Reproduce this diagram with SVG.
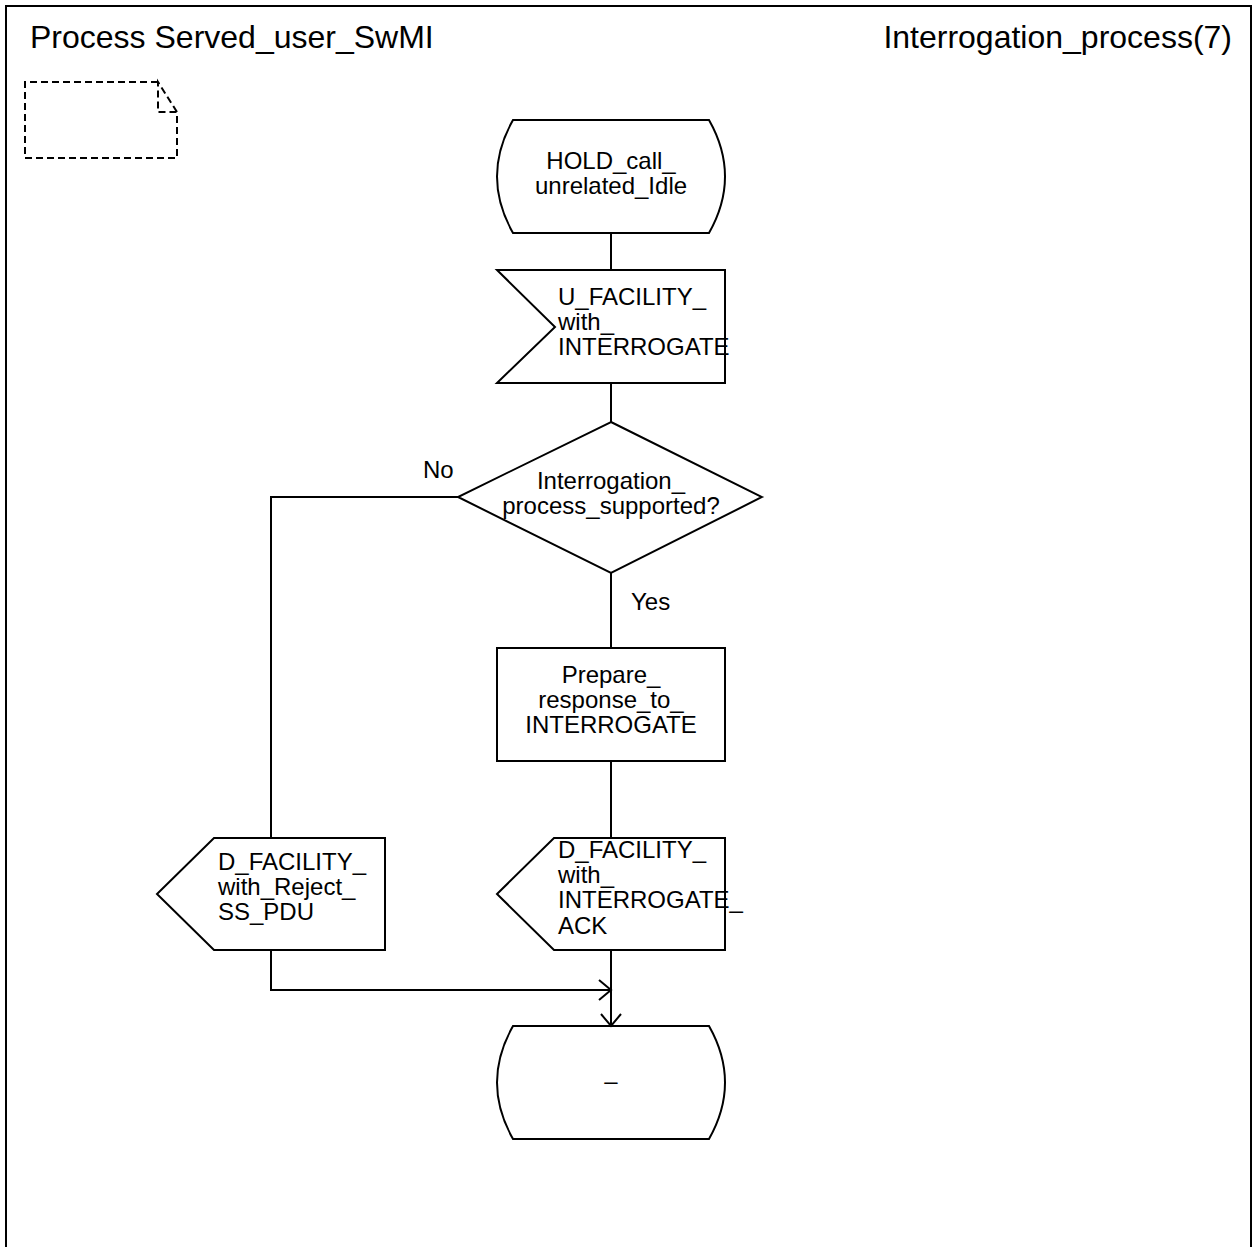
<svg xmlns="http://www.w3.org/2000/svg" width="1252" height="1247" viewBox="0 0 1252 1247">
<style>
.s{fill:none;stroke:#000;stroke-width:2}
.d{fill:none;stroke:#000;stroke-width:2;stroke-dasharray:7 4}
text{font-family:"Liberation Sans",Arial,sans-serif;font-size:24px;fill:#000}
.h{font-size:32px}
.c{text-anchor:middle}
</style>
<defs>
<marker id="arr" markerWidth="16" markerHeight="24" viewBox="-2 -12 16 24" refX="12" refY="0" orient="auto" markerUnits="userSpaceOnUse">
<path d="M0,-10 L12,0 L0,10" fill="none" stroke="#000" stroke-width="2"/>
</marker>
</defs>
<rect width="1252" height="1247" fill="#fff"/>
<path class="s" d="M6,1247 V6 H1251 V1247"/>
<text class="h" x="30" y="48">Process Served_user_SwMI</text>
<text class="h" x="1232" y="48" text-anchor="end">Interrogation_process(7)</text>
<g id="comment">
<path class="d" d="M158,82 H25 V158 H177 V112 L158,82 V112 H177"/>
</g>
<g id="connectors">
<path class="s" d="M611,233 V270"/>
<path class="s" d="M611,383 V422"/>
<path class="s" d="M611,573 V648"/>
<path class="s" d="M611,761 V838"/>
<path class="s" d="M458,497 H271 V838"/>
<path class="s" d="M271,950 V990 H611" marker-end="url(#arr)"/>
<path class="s" d="M611,950 V1026" marker-end="url(#arr)"/>
<text x="423" y="478">No</text>
<text x="631" y="610">Yes</text>
</g>
<g id="start">
<path class="s" d="M513,120 H709 Q741,176.5 709,233 H513 Q481,176.5 513,120 Z"/>
<text class="c" x="611" y="169">HOLD_call_</text>
<text class="c" x="611" y="194">unrelated_Idle</text>
</g>
<g id="input">
<path class="s" d="M497,270 H725 V383 H497 L555,327 Z"/>
<text x="558" y="305">U_FACILITY_</text>
<text x="558" y="330">with_</text>
<text x="558" y="355">INTERROGATE</text>
</g>
<g id="decision">
<path class="s" d="M611,422 L762,497 L611,573 L458,497 Z"/>
<text class="c" x="611" y="489">Interrogation_</text>
<text class="c" x="611" y="514">process_supported?</text>
</g>
<g id="task">
<rect class="s" x="497" y="648" width="228" height="113"/>
<text class="c" x="611" y="683">Prepare_</text>
<text class="c" x="611" y="708">response_to_</text>
<text class="c" x="611" y="733">INTERROGATE</text>
</g>
<g id="output_reject">
<path class="s" d="M214,838 H385 V950 H214 L157,894 Z"/>
<text x="218" y="870">D_FACILITY_</text>
<text x="218" y="895">with_Reject_</text>
<text x="218" y="920">SS_PDU</text>
</g>
<g id="output_ack">
<path class="s" d="M554,838 H725 V950 H554 L497,894 Z"/>
<text x="558" y="858">D_FACILITY_</text>
<text x="558" y="883">with_</text>
<text x="558" y="908">INTERROGATE_</text>
<text x="558" y="934">ACK</text>
</g>
<g id="nextstate">
<path class="s" d="M513,1026 H709 Q741,1082.5 709,1139 H513 Q481,1082.5 513,1026 Z"/>
<text class="c" x="611" y="1089">–</text>
</g>
</svg>
